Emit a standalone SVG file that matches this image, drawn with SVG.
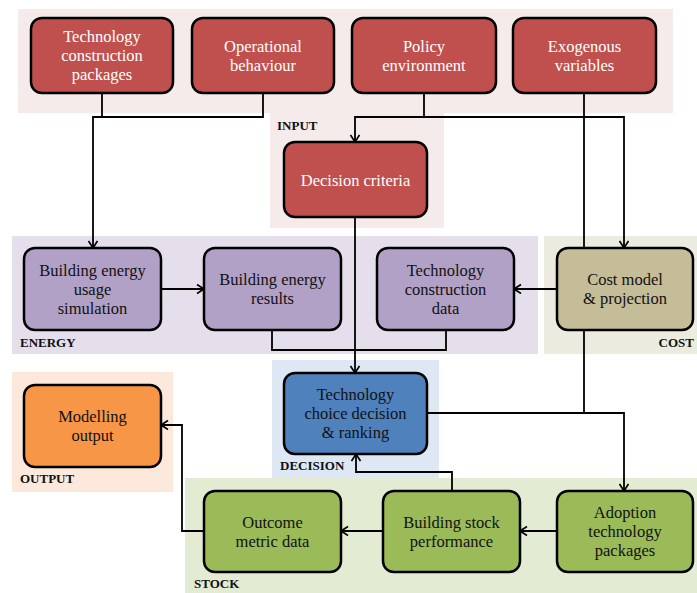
<svg xmlns="http://www.w3.org/2000/svg" width="697" height="593" viewBox="0 0 697 593">
<defs>
<marker id="arr" markerUnits="userSpaceOnUse" markerWidth="12" markerHeight="12" refX="8" refY="5" orient="auto">
<path d="M1,0.5 L8,5 L1,9.5" fill="none" stroke="#000" stroke-width="1.7"/>
</marker>
<style>
.node rect{stroke:#000;stroke-width:2.5}
.red rect{fill:#c0504d}
.pur rect{fill:#b2a1c7}
.blu rect{fill:#4f81bd}
.org rect{fill:#f79646}
.grn rect{fill:#9bbb59}
.bei rect{fill:#c4bd97}
.node text{font-family:"Liberation Serif","Times New Roman",serif;font-size:16.5px;text-anchor:middle;fill:#111}
.red text{fill:#fff}
.lbl{font-family:"Liberation Serif","Times New Roman",serif;font-size:13px;font-weight:bold;fill:#111}
#connectors path{fill:none;stroke:#000;stroke-width:1.8}
</style>
</defs>
<g id="panels">
<path d="M18,9 H673 V113 H444 V228 H270 V113 H18 Z" fill="#f5ebea"/>
<rect x="12" y="236" width="526" height="118" fill="#e5dfec"/>
<rect x="544" y="236" width="153" height="118" fill="#ecebe0"/>
<rect x="272" y="360" width="167" height="118" fill="#dee7f4"/>
<rect x="12" y="372" width="161" height="120" fill="#fde9db"/>
<rect x="185" y="478" width="512" height="115" fill="#e3ebd2"/>
<text class="lbl" x="277" y="130">INPUT</text>
<text class="lbl" x="20" y="347">ENERGY</text>
<text class="lbl" x="694" y="347" text-anchor="end">COST</text>
<text class="lbl" x="280" y="470">DECISION</text>
<text class="lbl" x="20" y="483">OUTPUT</text>
<text class="lbl" x="194" y="588">STOCK</text>
</g>
<g id="connectors">
<path d="M102,93 V117"/>
<path d="M263,93 V117 H93 V248" marker-end="url(#arr)"/>
<path d="M424,93 V117 H355 V142" marker-end="url(#arr)"/>
<path d="M424,117 H624 V248" marker-end="url(#arr)"/>
<path d="M584,93 V248"/>
<path d="M355,217 V373" marker-end="url(#arr)"/>
<path d="M161,289 H204" marker-end="url(#arr)"/>
<path d="M272,330 V350 H446 V330"/>
<path d="M557,289 H514" marker-end="url(#arr)"/>
<path d="M584,330 V413"/>
<path d="M427,413 H624 V491" marker-end="url(#arr)"/>
<path d="M557,531 H520" marker-end="url(#arr)"/>
<path d="M383,531 H341" marker-end="url(#arr)"/>
<path d="M452,491 V472 H356 V454" marker-end="url(#arr)"/>
<path d="M204,531 H182 V425 H161" marker-end="url(#arr)"/>
</g>
<g id="n-tcp" class="node red"><rect x="31" y="18" width="142" height="75" rx="11"/><text x="102" y="42">Technology</text><text x="102" y="61">construction</text><text x="102" y="80">packages</text></g>
<g id="n-ob" class="node red"><rect x="192" y="18" width="142" height="75" rx="11"/><text x="263" y="51.5">Operational</text><text x="263" y="70.5">behaviour</text></g>
<g id="n-pe" class="node red"><rect x="352" y="18" width="144" height="75" rx="11"/><text x="424" y="51.5">Policy</text><text x="424" y="70.5">environment</text></g>
<g id="n-ev" class="node red"><rect x="513" y="18" width="143" height="75" rx="11"/><text x="584.5" y="51.5">Exogenous</text><text x="584.5" y="70.5">variables</text></g>
<g id="n-dc" class="node red"><rect x="284" y="142" width="143" height="75" rx="11"/><text x="355.5" y="185.5">Decision criteria</text></g>
<g id="n-beus" class="node pur"><rect x="24" y="248" width="137" height="82" rx="11"/><text x="92.5" y="276">Building energy</text><text x="92.5" y="295">usage</text><text x="92.5" y="314">simulation</text></g>
<g id="n-ber" class="node pur"><rect x="204" y="248" width="137" height="82" rx="11"/><text x="272.5" y="285">Building energy</text><text x="272.5" y="304">results</text></g>
<g id="n-tcd" class="node pur"><rect x="377" y="248" width="137" height="82" rx="11"/><text x="445.5" y="276">Technology</text><text x="445.5" y="295">construction</text><text x="445.5" y="314">data</text></g>
<g id="n-cmp" class="node bei"><rect x="557" y="248" width="136" height="82" rx="11"/><text x="625" y="285">Cost model</text><text x="625" y="304">&amp; projection</text></g>
<g id="n-tcdr" class="node blu"><rect x="284" y="373" width="143" height="81" rx="11"/><text x="355.5" y="400">Technology</text><text x="355.5" y="419">choice decision</text><text x="355.5" y="438">&amp; ranking</text></g>
<g id="n-mo" class="node org"><rect x="24" y="385" width="137" height="82" rx="11"/><text x="92.5" y="422">Modelling</text><text x="92.5" y="441">output</text></g>
<g id="n-omd" class="node grn"><rect x="204" y="491" width="137" height="81" rx="11"/><text x="272.5" y="527.5">Outcome</text><text x="272.5" y="546.5">metric data</text></g>
<g id="n-bsp" class="node grn"><rect x="383" y="491" width="137" height="81" rx="11"/><text x="451.5" y="527.5">Building stock</text><text x="451.5" y="546.5">performance</text></g>
<g id="n-atp" class="node grn"><rect x="557" y="491" width="136" height="81" rx="11"/><text x="625" y="518">Adoption</text><text x="625" y="537">technology</text><text x="625" y="556">packages</text></g>
</svg>
